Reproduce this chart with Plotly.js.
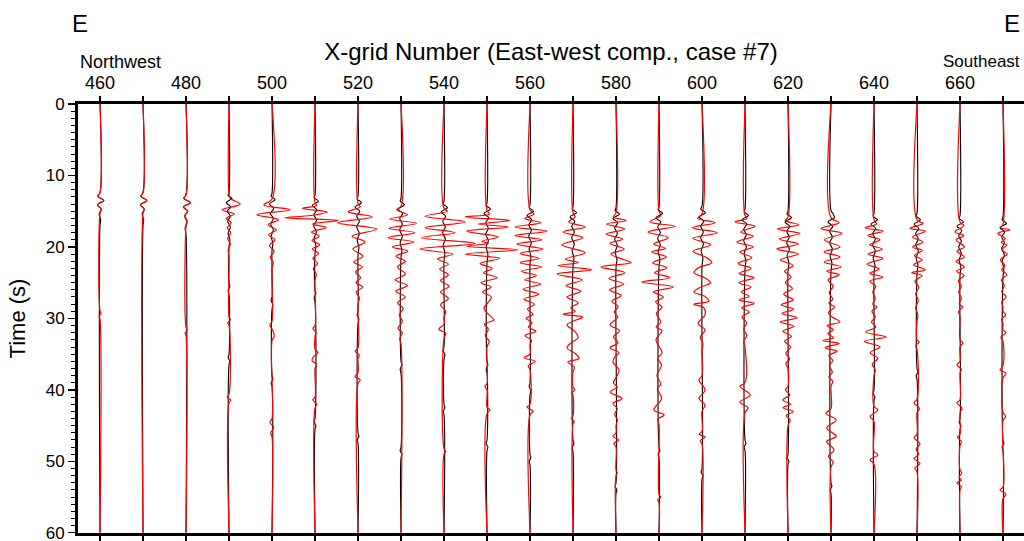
<!DOCTYPE html>
<html>
<head>
<meta charset="utf-8">
<script src="https://cdn.plot.ly/plotly-3.0.1.min.js"></script>
<style>
  html, body { margin: 0; padding: 0; background: #fff; }
  #chart { width: 1024px; height: 541px; }
</style>
</head>
<body>
<div id="chart"></div>
<script>
// Receiver positions along the profile (x-grid number)
const stations = [460, 470, 480, 490, 500, 510, 520, 530, 540, 550, 560,
                  570, 580, 590, 600, 610, 620, 630, 640, 650, 660, 670];

// Top-axis labels
const tickLabels = [460, 480, 500, 520, 540, 560, 580, 600, 620, 640, 660];

// Left-axis labels (time, s)
const timeTicks = [0, 10, 20, 30, 40, 50, 60];

// Waveform samples as [time (s), deflection (grid units)] for each station.
// syn = synthetic (red), obs = recorded (black).
const syn460 = [[12.4,0],[12.9,-0.5],[13.5,0.9],[14.1,-0.6],[14.7,0.3],[15.3,0],[28.9,0],[29.3,0.25],[29.7,-0.2],[30.1,0]];
const obs460 = [[12.4,0],[12.9,-0.5],[13.5,0.9],[14.1,-0.6],[14.7,0.3],[15.4,-0.2],[16.2,0.15],[17.0,0]];
const syn470 = [[12.4,0],[12.9,-0.5],[13.5,0.9],[14.1,-0.6],[14.7,0.25],[15.3,0]];
const obs470 = [[12.4,0],[12.9,-0.5],[13.5,0.9],[14.1,-0.6],[14.7,0.3],[15.4,-0.2],[16.2,0.15],[17.0,0]];
const syn480 = [[12.7,0],[13.2,-0.5],[13.8,1.0],[14.4,-0.6],[15.0,0.4],[15.6,-0.3],[16.3,0.2],[17.0,0],[31.2,0],[31.6,0.3],[32.0,-0.2],[32.4,0]];
const obs480 = [[12.7,0],[13.2,-0.5],[13.8,1.0],[14.4,-0.6],[15.0,0.4],[15.7,-0.3],[16.5,0.25],[17.4,-0.2],[18.3,0]];
const syn490 = [[12.6,0],[13.2,0.3],[14.0,2.6],[14.8,-1.6],[15.4,1.2],[16.0,-0.6],[16.6,0.5],[17.3,-0.4],[18.0,0.4],[18.8,-0.3],[19.6,0.3],[20.4,-0.2],[21.2,0],[29.8,0],[30.2,0.3],[30.6,-0.3],[31.0,0],[40.6,0],[41.0,-0.4],[41.4,0.4],[41.8,0]];
const obs490 = [[12.4,0],[12.8,-0.2],[13.2,0.7],[13.8,-0.6],[14.4,0.4],[15.0,-0.4],[15.7,0.3],[16.4,-0.3],[17.2,0.3],[18.1,-0.2],[19.0,0.2],[20.0,0],[25.0,0],[25.5,0.2],[26.1,-0.2],[26.7,0],[35.0,0],[35.5,-0.2],[36.0,0.2],[36.5,0]];
const syn500 = [[13.3,0],[14.1,-1.9],[14.8,4.2],[15.5,-3.5],[16.2,1.5],[16.9,-0.9],[17.6,1.0],[18.3,-0.8],[19.0,0.7],[19.8,-0.6],[20.6,0.5],[21.4,-0.4],[22.2,0.3],[23.0,0],[30.4,0],[30.9,-0.5],[31.7,0.2],[32.5,0.5],[33.1,0],[44.0,0],[44.6,-0.5],[45.2,0.4],[46.0,-0.3],[46.6,0]];
const obs500 = [[12.5,0],[12.9,-0.2],[13.4,0.7],[14.0,-0.6],[14.6,0.4],[15.3,-0.4],[16.0,0.3],[16.8,-0.3],[17.6,0.3],[18.5,-0.2],[19.5,0.2],[20.5,0],[27.0,0],[27.5,-0.2],[28.1,0.2],[28.7,0],[38.0,0],[38.5,0.2],[39.0,-0.2],[39.5,0]];
const syn510 = [[13.8,0],[14.2,0.4],[14.6,-3.0],[15.1,2.8],[15.6,-1.0],[15.9,-7.0],[16.3,5.4],[16.8,-0.6],[17.3,2.6],[17.9,-0.8],[18.5,1.0],[19.1,-0.7],[19.7,1.1],[20.3,-0.6],[20.9,0.8],[21.6,-0.5],[22.3,0.6],[23.0,-0.4],[23.8,0.3],[24.6,0],[31.0,0],[31.4,-0.5],[31.9,0.2],[32.5,0],[34.3,0],[34.8,0.7],[35.3,-0.3],[35.9,-0.7],[36.4,0.3],[37.0,0],[41.0,0],[41.4,-0.5],[42.0,0.4],[42.5,0]];
const obs510 = [[12.7,0],[13.1,-0.2],[13.6,0.8],[14.2,-0.6],[14.8,0.4],[15.5,-0.3],[16.2,0.4],[17.0,-0.3],[17.9,0.3],[18.8,-0.2],[19.8,0.2],[21.0,0],[26.0,0],[26.5,0.2],[27.1,-0.2],[27.7,0],[44.0,0],[44.5,-0.2],[45.0,0.2],[45.5,0]];
const syn520 = [[13.9,0],[14.4,0.5],[15.1,-2.3],[15.8,3.3],[16.6,-4.7],[17.5,4.4],[18.5,-1.4],[19.3,1.6],[20.3,-1.2],[21.3,1.2],[22.1,-1.0],[22.8,1.0],[23.5,-0.6],[24.3,0.6],[25.0,-0.5],[25.6,1.1],[26.3,-0.4],[27.1,0.3],[28.0,0],[34.1,0],[34.6,-0.7],[35.1,0.3],[35.6,0],[37.6,0],[38.1,-0.7],[38.6,0.5],[39.1,0]];
const obs520 = [[12.9,0],[13.3,-0.2],[13.8,0.8],[14.4,-0.7],[15.0,0.4],[15.7,-0.3],[16.4,0.3],[17.2,-0.3],[18.1,0.3],[19.0,-0.2],[20.0,0.2],[21.2,0],[29.0,0],[29.5,-0.2],[30.1,0.2],[30.7,0],[46.0,0],[46.5,0.2],[47.0,-0.2],[47.5,0]];
const syn530 = [[14.3,0],[14.8,-1.0],[15.5,1.5],[16.1,-2.6],[16.7,3.6],[17.4,-2.8],[18.0,3.2],[18.7,-3.0],[19.3,3.0],[20.0,-2.0],[20.6,1.6],[21.3,-1.2],[22.0,1.0],[22.8,-0.8],[23.8,1.0],[24.6,-1.4],[25.4,1.5],[26.2,-1.2],[27.0,1.0],[27.8,-0.8],[28.6,0.5],[29.5,-0.4],[30.4,0.3],[31.4,-0.7],[32.0,0.3],[32.8,-0.3],[33.6,0]];
const obs530 = [[13.2,0],[13.6,-0.2],[14.1,0.8],[14.7,-0.7],[15.3,0.4],[16.0,-0.3],[16.8,0.3],[17.6,-0.3],[18.5,0.3],[19.4,-0.2],[20.4,0.2],[21.5,0],[36.0,0],[36.5,0.2],[37.1,-0.2],[37.7,0],[48.0,0],[48.5,-0.2],[49.0,0.2],[49.5,0]];
const syn540 = [[14.6,0],[15.0,0.8],[15.7,-4.4],[16.5,4.9],[17.3,-4.4],[18.0,2.5],[18.7,-5.2],[19.5,7.2],[20.3,-5.6],[21.0,2.0],[21.7,-1.5],[22.4,1.0],[23.1,-1.0],[23.9,1.0],[24.7,-0.8],[25.5,1.2],[26.3,-0.8],[27.2,1.0],[28.1,-0.8],[29.0,0.4],[29.8,0],[30.8,0],[31.5,-1.2],[32.1,0.4],[32.8,0],[48.2,0],[48.6,0.4],[49.0,0]];
const obs540 = [[13.6,0],[14.0,-0.2],[14.5,0.8],[15.1,-0.7],[15.7,0.4],[16.4,-0.3],[17.2,0.3],[18.0,-0.3],[18.9,0.3],[19.8,-0.2],[20.8,0.2],[22.0,0],[34.0,0],[34.5,-0.2],[35.1,0.2],[35.7,0],[42.0,0],[42.5,0.2],[43.0,-0.2],[43.5,0]];
const syn550 = [[14.9,0],[15.4,0.6],[15.8,-5.1],[16.3,5.3],[16.8,-2.0],[17.2,5.0],[17.8,-4.7],[18.6,2.6],[19.2,-1.2],[19.5,0.4],[19.9,-4.7],[20.4,7.2],[21.0,-5.1],[21.6,3.0],[22.3,-1.6],[23.0,1.2],[23.6,-0.8],[24.3,2.3],[25.0,-1.4],[25.6,1.0],[26.3,-1.0],[27.0,1.0],[27.8,0.2],[28.6,-0.7],[29.4,0.3],[30.2,1.6],[30.8,-0.6],[31.5,0.3],[32.4,-0.4],[33.2,0.5],[34.0,0],[39.1,0],[39.5,-0.5],[40.0,0],[42.4,0],[42.8,0.7],[43.3,0]];
const obs550 = [[13.8,0],[14.2,-0.2],[14.7,0.8],[15.3,-0.7],[15.9,0.4],[16.6,-0.3],[17.4,0.3],[18.2,-0.3],[19.1,0.3],[20.0,-0.2],[21.0,0.2],[22.2,0],[36.0,0],[36.5,0.2],[37.1,-0.2],[37.7,0],[47.0,0],[47.5,-0.2],[48.0,0.2],[48.5,0]];
const syn560 = [[14.8,0],[15.4,0.9],[16.0,-1.2],[16.6,2.5],[17.2,-3.5],[17.8,3.9],[18.4,-3.5],[19.0,2.8],[19.6,-3.1],[20.3,3.0],[20.9,-2.3],[21.6,2.0],[22.2,-2.3],[22.8,2.7],[23.4,-2.0],[24.0,1.5],[24.6,-1.2],[25.2,2.5],[25.9,-1.6],[26.6,2.0],[27.3,-1.4],[28.0,1.0],[28.7,-0.6],[29.4,0.7],[30.0,-0.9],[30.6,0.5],[31.2,-0.4],[31.8,1.4],[32.4,-1.2],[33.0,0.3],[33.8,0],[35.0,0],[35.5,-1.4],[36.0,1.2],[36.6,-0.4],[37.2,0],[42.0,0],[42.4,-0.7],[43.0,0.7],[43.5,0]];
const obs560 = [[14.1,0],[14.5,-0.2],[15.0,0.8],[15.6,-0.7],[16.2,0.4],[16.9,-0.3],[17.7,0.3],[18.5,-0.3],[19.4,0.3],[20.3,-0.2],[21.3,0.2],[22.5,0],[39.0,0],[39.5,-0.2],[40.1,0.2],[40.7,0],[49.0,0],[49.5,0.2],[50.0,-0.2],[50.5,0]];
const syn570 = [[15.2,0],[15.8,0.5],[16.5,-1.0],[17.2,2.8],[17.9,-2.3],[18.7,2.3],[19.7,-2.6],[20.8,2.8],[21.7,-1.8],[22.2,1.2],[22.6,-3.5],[23.2,4.4],[23.8,-3.7],[24.6,2.2],[25.4,-1.6],[26.2,1.8],[27.0,-1.4],[27.8,1.2],[28.5,-0.5],[29.0,0.5],[29.4,-2.3],[29.8,2.3],[30.3,0.4],[30.9,-1.4],[31.8,0.4],[32.7,1.2],[33.4,-0.4],[34.1,-1.4],[34.9,0.5],[35.6,1.4],[36.1,-1.2],[36.8,0.3],[37.5,0],[39.6,0],[40.0,0.4],[40.4,-0.3],[40.8,0],[43.6,0],[44.0,-0.4],[44.4,0.3],[44.8,0]];
const obs570 = [[14.3,0],[14.7,-0.2],[15.2,0.8],[15.8,-0.7],[16.4,0.4],[17.1,-0.3],[17.9,0.3],[18.7,-0.3],[19.6,0.3],[20.5,-0.2],[21.5,0.2],[22.7,0],[47.0,0],[47.5,0.2],[48.1,-0.2],[48.7,0]];
const syn580 = [[15.2,0],[15.8,-0.6],[16.3,2.3],[16.8,-2.2],[17.5,2.0],[18.2,-2.3],[18.9,1.6],[19.5,-1.4],[20.3,1.9],[21.0,-1.2],[21.6,1.0],[22.2,3.5],[22.8,-3.5],[23.6,2.0],[24.4,-1.6],[25.2,1.8],[26.0,-1.5],[26.8,1.2],[27.6,-1.0],[28.3,0.5],[29.1,-0.4],[29.8,0.4],[30.9,-1.4],[31.7,0.8],[32.6,-0.6],[33.4,0.5],[34.1,-1.4],[34.8,0.7],[35.4,-0.3],[36.1,-0.7],[37.2,0.7],[38.1,0.2],[39.0,-0.6],[39.6,0.3],[40.3,-1.4],[41.2,1.4],[41.9,-0.7],[42.6,0.3],[43.4,-0.3],[44.2,0.3],[45.0,0],[46.0,0],[46.5,-0.7],[47.0,0.7],[47.5,-0.5],[48.0,0],[51.2,0],[51.6,0.3],[52.0,0]];
const obs580 = [[14.5,0],[14.9,-0.2],[15.4,0.8],[16.0,-0.7],[16.6,0.4],[17.3,-0.3],[18.1,0.3],[18.9,-0.3],[19.8,0.3],[20.7,-0.2],[21.7,0.2],[22.9,0],[53.0,0],[53.5,-0.2],[54.0,0.2],[54.5,0]];
const syn590 = [[15.0,0],[15.6,0.4],[16.5,-2.1],[17.1,3.7],[17.9,-2.6],[18.7,2.1],[19.6,-1.2],[20.2,1.5],[20.7,-1.7],[21.4,1.7],[22.2,-1.5],[22.9,1.8],[23.6,-1.0],[24.3,2.5],[24.9,-4.0],[25.6,3.3],[26.3,-1.3],[27.0,1.0],[27.7,-0.8],[28.4,0.7],[29.3,-0.6],[30.5,0.4],[31.2,-0.7],[31.7,0.7],[33.0,-0.7],[34.8,0.7],[35.6,-0.3],[36.5,0.6],[38.0,-0.5],[39.2,0.4],[39.8,-0.4],[41.2,0.6],[42.8,-1.2],[43.5,1.2],[44.1,-0.3],[44.8,0],[54.6,0],[55.0,0.4],[55.4,-0.3],[55.8,0]];
const obs590 = [[14.4,0],[14.8,-0.2],[15.3,0.8],[15.9,-0.7],[16.5,0.4],[17.2,-0.3],[18.0,0.3],[18.8,-0.3],[19.7,0.3],[20.6,-0.2],[21.6,0.2],[22.8,0],[48.0,0],[48.5,0.2],[49.0,-0.2],[49.5,0]];
const syn600 = [[15.4,0],[16.0,-1.0],[16.6,3.0],[17.3,-2.2],[18.0,3.5],[18.8,-2.1],[19.7,2.0],[20.6,-2.1],[21.4,0.8],[22.2,2.3],[22.9,-0.8],[23.6,-1.9],[24.3,0.6],[25.0,2.0],[25.7,-0.6],[26.3,-1.9],[26.9,0.6],[27.6,1.6],[28.0,-1.9],[28.5,0.4],[29.5,0.7],[30.7,-0.9],[31.6,0.7],[32.6,-0.4],[33.5,0.2],[34.5,0],[38.0,0],[38.6,-0.7],[40.0,0.7],[41.2,-0.7],[42.1,0.7],[43.0,0],[45.8,0],[46.2,-0.7],[46.6,0.7],[47.1,-0.4],[47.6,0]];
const obs600 = [[14.3,0],[14.7,-0.3],[15.2,0.8],[15.8,-0.7],[16.4,0.4],[17.1,-0.3],[17.9,0.3],[18.7,-0.3],[19.6,0.3],[20.5,-0.2],[21.5,0.2],[22.7,0],[51.0,0],[51.5,-0.2],[52.0,0.2],[52.5,0]];
const syn610 = [[15.6,0],[16.0,0.5],[16.5,-2.3],[17.1,2.3],[17.9,-1.0],[18.5,1.9],[19.3,-1.9],[20.0,1.9],[20.7,-1.2],[21.5,1.6],[22.3,-1.6],[23.0,1.4],[23.7,-1.4],[24.3,2.1],[25.0,-1.4],[25.6,1.4],[26.3,-0.9],[26.9,1.0],[27.4,-1.4],[27.9,2.1],[28.5,-0.8],[29.1,1.0],[29.8,-0.7],[30.6,0.4],[31.5,-0.3],[32.4,0.4],[33.2,-0.3],[34.0,0],[39.0,0],[39.5,-1.2],[40.7,1.2],[41.7,-1.2],[42.5,0.7],[43.2,0]];
const obs610 = [[14.7,0],[15.1,-0.2],[15.6,0.8],[16.2,-0.7],[16.8,0.4],[17.5,-0.3],[18.3,0.3],[19.1,-0.3],[20.0,0.3],[20.9,-0.2],[21.9,0.2],[23.1,0],[47.0,0],[47.5,0.2],[48.0,-0.2],[48.5,0]];
const syn620 = [[15.8,0],[16.3,-0.6],[16.9,2.5],[17.5,-2.5],[18.1,2.8],[18.9,-2.0],[19.6,2.4],[20.3,-2.6],[21.0,2.4],[21.8,-1.8],[22.6,1.2],[23.4,-0.8],[24.2,0.7],[25.0,-0.6],[25.8,1.0],[26.6,-1.0],[27.4,1.2],[28.1,-1.6],[28.7,1.3],[29.3,-1.4],[29.9,2.1],[30.5,-1.8],[31.1,1.4],[31.8,-1.2],[32.5,0.8],[33.2,-0.8],[34.0,0.6],[34.9,-0.5],[35.7,0.4],[36.3,-0.5],[37.0,0],[39.5,0],[40.0,-0.6],[40.7,0.4],[41.4,-1.2],[42.0,0.6],[42.5,-1.2],[43.0,1.2],[43.6,-0.4],[44.2,0.5],[45.0,0]];
const obs620 = [[15.0,0],[15.4,-0.2],[15.9,0.8],[16.5,-0.7],[17.1,0.4],[17.8,-0.3],[18.6,0.3],[19.4,-0.3],[20.3,0.3],[21.2,-0.2],[22.2,0.2],[23.4,0],[49.0,0],[49.5,-0.2],[50.0,0.2],[50.5,0]];
const syn630 = [[15.9,0],[16.6,1.9],[17.4,-2.3],[18.1,2.6],[19.0,-1.6],[20.0,2.1],[20.7,-1.6],[21.4,2.1],[22.1,-1.6],[22.8,2.3],[23.4,-1.0],[23.9,1.9],[24.6,-0.7],[25.5,0.5],[26.4,-0.4],[27.3,0.4],[27.9,-0.5],[28.4,0.8],[29.2,-0.6],[29.8,0.3],[30.5,2.1],[31.0,-0.9],[31.6,0.5],[32.1,-0.7],[32.7,0.6],[33.1,-1.9],[33.5,1.9],[34.1,-1.4],[34.6,1.4],[35.2,-0.5],[35.9,0.4],[36.6,-0.4],[37.5,0.3],[38.2,-0.5],[38.8,0.4],[39.5,0],[42.6,0],[43.3,-1.2],[44.2,1.2],[45.3,-1.0],[46.5,1.2],[47.2,-1.0],[48.4,0.7],[49.3,-0.6],[50.1,0.5],[50.8,0]];
const obs630 = [[14.9,0],[15.3,0.4],[15.9,0.8],[16.5,-0.7],[17.1,0.4],[17.8,-0.3],[18.6,0.3],[19.4,-0.3],[20.3,0.3],[21.2,-0.2],[22.2,0.2],[23.4,0],[53.0,0],[53.5,0.2],[54.0,-0.2],[54.5,0]];
const syn640 = [[16.2,0],[16.8,0.6],[17.3,-2.1],[17.8,2.1],[18.4,-1.4],[19.0,1.4],[19.7,-1.0],[20.3,1.9],[21.0,-1.4],[21.6,2.0],[22.4,-1.6],[23.1,1.2],[23.7,-1.0],[24.2,2.1],[24.8,-1.0],[25.5,0.4],[26.3,-0.3],[27.2,0.3],[28.0,-0.3],[28.4,0.7],[29.0,-0.5],[29.8,0.3],[30.5,-0.6],[31.2,0.4],[31.9,-1.9],[32.6,2.8],[33.2,-2.3],[34.0,1.4],[34.8,-0.9],[35.6,0.9],[36.4,-0.4],[37.2,0.3],[38.0,0],[42.3,0],[42.8,0.9],[43.7,-0.9],[44.4,0],[48.6,0],[49.1,0.9],[49.8,-0.9],[50.4,0]];
const obs640 = [[15.3,0],[15.7,-0.2],[16.2,0.8],[16.8,-0.7],[17.4,0.4],[18.1,-0.3],[18.9,0.3],[19.7,-0.3],[20.6,0.3],[21.5,-0.2],[22.5,0.2],[23.7,0],[40.0,0],[40.5,-0.2],[41.0,0.2],[41.5,0]];
const syn650 = [[16.2,0],[16.7,1.4],[17.4,-1.6],[17.8,1.9],[18.6,-1.0],[19.3,1.4],[20.0,-1.0],[20.5,1.2],[21.2,-0.6],[21.8,1.2],[22.5,-0.8],[23.2,1.9],[23.6,-1.2],[24.0,1.2],[24.8,-0.5],[25.6,0.4],[26.6,-0.3],[27.5,0.3],[28.5,-0.3],[29.5,0.2],[30.5,0],[33.0,0],[33.3,0.5],[33.8,-0.3],[34.3,0],[41.3,0],[41.8,-0.7],[42.6,0.6],[43.2,0],[46.2,0],[46.7,-0.7],[47.5,0.7],[48.3,-0.2],[49.0,0.4],[49.6,-0.7],[50.3,0.7],[50.9,-0.5],[51.5,0]];
const obs650 = [[15.3,0],[15.7,-0.2],[16.2,0.8],[16.8,-0.7],[17.4,0.4],[18.1,-0.3],[18.9,0.3],[19.7,-0.3],[20.6,0.3],[21.5,-0.2],[22.5,0.2],[23.7,0],[37.0,0],[37.5,0.2],[38.0,-0.2],[38.5,0]];
const syn660 = [[16.5,0],[17.0,0.9],[17.9,-1.2],[18.4,0.9],[19.0,-0.9],[20.0,1.0],[20.6,-0.7],[21.4,1.0],[22.0,-0.9],[22.8,1.0],[23.4,-0.8],[24.0,1.0],[24.7,-0.4],[25.5,0.3],[26.3,-0.3],[27.2,0.3],[28.0,-0.2],[28.4,0.6],[29.0,-0.3],[29.8,0],[33.0,0],[33.4,0.7],[34.0,0],[36.0,0],[36.5,-0.7],[37.1,0.3],[37.6,0],[41.4,0],[41.8,-0.7],[42.6,0.5],[43.2,0],[46.2,0],[46.6,-0.6],[47.2,0.3],[47.8,0],[51.2,0],[51.6,0.4],[52.2,-0.2],[52.6,0.3],[53.0,-0.7],[53.5,0.3],[54.0,0]];
const obs660 = [[15.6,0],[16.0,-0.2],[16.5,0.8],[17.1,-0.7],[17.7,0.4],[18.4,-0.3],[19.2,0.3],[20.0,-0.3],[20.9,0.3],[21.8,-0.2],[22.8,0.2],[24.0,0],[44.0,0],[44.5,-0.2],[45.0,0.2],[45.5,0]];
const syn670 = [[16.8,0],[17.3,-0.5],[17.6,1.6],[18.1,-1.2],[18.8,0.5],[19.4,-0.4],[19.7,0.9],[20.4,-0.3],[21.0,1.0],[21.8,-0.6],[22.6,0.4],[23.2,-0.3],[23.9,0.9],[24.6,-0.4],[25.4,0.3],[26.3,-0.3],[27.0,0.7],[27.7,-0.3],[28.4,0],[29.0,0],[29.5,0.6],[30.1,-0.3],[30.7,0],[31.6,0],[32.0,0.7],[32.6,-0.5],[33.2,0],[36.6,0],[37.2,-0.7],[37.7,0.7],[38.3,0],[43.2,0],[43.7,0.6],[44.3,0],[53.6,0],[54.0,-0.7],[54.6,0.7],[55.2,0]];
const obs670 = [[15.8,0],[16.2,-0.2],[16.7,0.8],[17.3,-0.7],[17.9,0.4],[18.6,-0.3],[19.4,0.3],[20.2,-0.3],[21.1,0.3],[22.0,-0.2],[23.0,0.2],[24.2,0],[47.0,0],[47.5,0.2],[48.0,-0.2],[48.5,0]];

const synthetic = [syn460, syn470, syn480, syn490, syn500, syn510, syn520, syn530, syn540, syn550, syn560,
                   syn570, syn580, syn590, syn600, syn610, syn620, syn630, syn640, syn650, syn660, syn670];
const observed  = [obs460, obs470, obs480, obs490, obs500, obs510, obs520, obs530, obs540, obs550, obs560,
                   obs570, obs580, obs590, obs600, obs610, obs620, obs630, obs640, obs650, obs660, obs670];

const T_START = 0, T_END = 60;

// One wiggle trace: deflections are added to the station position on the x axis.
function wiggle(station, samples, color, width) {
  const t = [T_START], x = [station];
  samples.forEach(function (s) { t.push(s[0]); x.push(station + s[1]); });
  t.push(T_END); x.push(station);
  return {
    type: 'scatter', mode: 'lines', x: x, y: t,
    line: { color: color, width: width, shape: 'spline', smoothing: 1 },
    hoverinfo: 'skip', showlegend: false
  };
}

const traces = [];
stations.forEach(function (st, i) { traces.push(wiggle(st, observed[i], '#000000', 1.1)); });
stations.forEach(function (st, i) { traces.push(wiggle(st, synthetic[i], '#ff0000', 1.2)); });

const FONT = 'Liberation Sans, Arial, Helvetica, sans-serif';

const layout = {
  width: 1024, height: 541,
  margin: { l: 78, r: 0, t: 104, b: 8, pad: 0 },
  paper_bgcolor: '#ffffff', plot_bgcolor: '#ffffff',
  font: { family: FONT, color: '#000000' },
  showlegend: false,
  xaxis: {
    side: 'top', range: [454.88, 674.88],
    tickmode: 'array', tickvals: tickLabels, ticktext: tickLabels.map(String),
    ticks: 'outside', ticklen: 5, tickwidth: 1.2, tickcolor: '#000',
    tickfont: { family: FONT, size: 18, color: '#000' },
    minor: { tickmode: 'array', tickvals: stations, ticks: 'outside', ticklen: 5, tickwidth: 1.2, tickcolor: '#000', showgrid: false },
    showline: true, linewidth: 3, linecolor: '#000', mirror: 'ticks',
    showgrid: false, zeroline: false, fixedrange: true,
    title: { text: 'X-grid Number (East-west comp., case #7)', font: { family: FONT, size: 24, color: '#000' }, standoff: 6 }
  },
  yaxis: {
    range: [60.02, -0.001],
    tickmode: 'array', tickvals: timeTicks, ticktext: timeTicks.map(String),
    ticklabeloverflow: 'allow',
    ticks: 'outside', ticklen: 7, tickwidth: 1.2, tickcolor: '#000',
    tickfont: { family: FONT, size: 17, color: '#000' },
    minor: { dtick: 1, tick0: 0, ticks: 'outside', ticklen: 4, tickwidth: 1, tickcolor: '#000', showgrid: false },
    showline: true, linewidth: 3, linecolor: '#000', mirror: false,
    showgrid: false, zeroline: false, fixedrange: true,
    title: { text: 'Time (s)', font: { family: FONT, size: 22, color: '#000' }, standoff: 14 }
  },
  annotations: [
    { text: 'E', xref: 'paper', yref: 'paper', x: -0.008, y: 1.187, xanchor: 'left', yanchor: 'middle', showarrow: false, font: { family: FONT, size: 24, color: '#000' } },
    { text: 'E', xref: 'paper', yref: 'paper', x: 0.977, y: 1.187, xanchor: 'left', yanchor: 'middle', showarrow: false, font: { family: FONT, size: 24, color: '#000' } },
    { text: 'Northwest', xref: 'paper', yref: 'paper', x: 0.0, y: 1.098, xanchor: 'left', yanchor: 'middle', showarrow: false, font: { family: FONT, size: 18, color: '#000' } },
    { text: 'Southeast', xref: 'paper', yref: 'paper', x: 0.912, y: 1.098, xanchor: 'left', yanchor: 'middle', showarrow: false, font: { family: FONT, size: 17, color: '#000' } }
  ]
};

Plotly.newPlot('chart', traces, layout, { staticPlot: true, displayModeBar: false });
</script>
</body>
</html>
